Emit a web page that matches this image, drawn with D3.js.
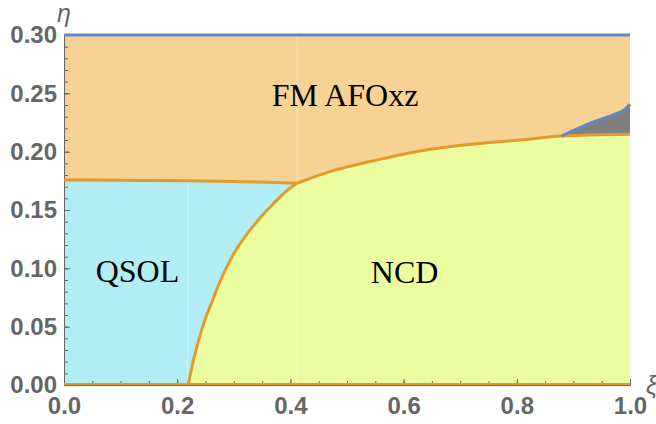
<!DOCTYPE html>
<html lang="en">
<head>
  <meta charset="UTF-8" />
  <title>Phase diagram</title>
  <script src="https://d3js.org/d3.v7.min.js"></script>
  <style>
    body { margin: 0; background: white; }
    svg { display: block; }
    .tick text { font-family: "Liberation Sans", Arial, sans-serif; font-weight: bold; font-size: 24px; fill: #666; }
    .phase-label { font-family: "Liberation Serif", "Times New Roman", serif; font-size: 32px; fill: #000; }
    .axis-label { font-family: "Liberation Sans", Arial, sans-serif; font-style: italic; font-size: 25px; fill: #666; }
  </style>
</head>
<body>
  <svg id="chart" width="656" height="424"></svg>

  <script>
    // Phase boundaries, as [xi, eta] pairs
    const qsolFmBoundary = [[0, 0.1757], [0.1, 0.1755], [0.2, 0.1751], [0.3, 0.1744], [0.36, 0.1738], [0.4117, 0.1729]];
    const qsolNcdBoundary = [[0.2196, 0], [0.2261, 0.0157], [0.2332, 0.0300], [0.2415, 0.0443], [0.2509, 0.0585],
                             [0.2627, 0.0729], [0.2744, 0.0872], [0.2875, 0.1010], [0.3021, 0.1142],
                             [0.3198, 0.1271], [0.3433, 0.1414], [0.3698, 0.1553], [0.3935, 0.1664], [0.4117, 0.1729]];
    const ncdFmBoundary = [[0.4117, 0.1729], [0.47, 0.1829], [0.558, 0.1934], [0.647, 0.202], [0.735, 0.2071],
                           [0.806, 0.21], [0.879, 0.2134], [1.0, 0.2149]];
    const grayTopBoundary = [[0.879, 0.2134], [0.93, 0.2245], [0.97, 0.2315], [0.99, 0.236], [1.0, 0.2405]];

    const xDomain = [0, 1];
    const yDomain = [0, 0.30];
    const xMajorTicks = [0, 0.2, 0.4, 0.6, 0.8, 1.0];
    const yMajorTicks = [0, 0.05, 0.10, 0.15, 0.20, 0.25, 0.30];
    const meshLines = [0.2185, 0.4117];

    const phaseLabels = [
      { text: "FM AFOxz", xi: 0.367, eta: 0.239 },
      { text: "QSOL", xi: 0.056, eta: 0.0885 },
      { text: "NCD", xi: 0.542, eta: 0.0874 }
    ];

    const colors = {
      fm: "#f6d394",
      qsol: "#b2edf5",
      ncd: "#ebfd9f",
      gray: "#7f7f7f",
      orange: "#e29b2a",
      blue: "#6288c4",
      axis: "#666"
    };

    const svg = d3.select("#chart");
    const x = d3.scaleLinear().domain(xDomain).range([64, 630]);
    const y = d3.scaleLinear().domain(yDomain).range([385, 35]);

    const lineX = d3.line().x(d => x(d[0])).y(d => y(d[1])).curve(d3.curveMonotoneX);
    const lineY = d3.line().x(d => x(d[0])).y(d => y(d[1])).curve(d3.curveMonotoneY);
    const straight = d3.line().x(d => x(d[0])).y(d => y(d[1]));

    // join several segments into one closed path
    function joined(parts) {
      return parts.map((p, i) => {
        const s = (p.gen || straight)(p.pts);
        return i === 0 ? s : "L" + s.slice(1);
      }).join("") + "Z";
    }
    const rev = a => a.slice().reverse();

    // FM fills the whole frame, other phases are painted on top
    svg.append("rect")
      .attr("x", x(0)).attr("y", y(0.30))
      .attr("width", x(1) - x(0)).attr("height", y(0) - y(0.30))
      .attr("fill", colors.fm);

    svg.append("path")
      .attr("d", joined([
        { pts: [[0, 0], qsolNcdBoundary[0]] },
        { pts: qsolNcdBoundary, gen: lineY },
        { pts: rev(qsolFmBoundary) }
      ]))
      .attr("fill", colors.qsol);

    svg.append("path")
      .attr("d", joined([
        { pts: qsolNcdBoundary, gen: lineY },
        { pts: ncdFmBoundary, gen: lineX },
        { pts: [[1, 0.2149], [1, 0]] }
      ]))
      .attr("fill", colors.ncd);

    svg.append("path")
      .attr("d", joined([
        { pts: grayTopBoundary, gen: lineX },
        { pts: [[1, 0.2149], [0.879, 0.2134]] }
      ]))
      .attr("fill", colors.gray);

    // faint mesh seams
    svg.append("line")
      .attr("x1", x(meshLines[0])).attr("x2", x(meshLines[0]))
      .attr("y1", y(0)).attr("y2", y(0.1751))
      .attr("stroke", "#fff").attr("stroke-opacity", 0.35);
    svg.append("line")
      .attr("x1", x(meshLines[1])).attr("x2", x(meshLines[1]))
      .attr("y1", y(0)).attr("y2", y(0.30))
      .attr("stroke", "#fff").attr("stroke-opacity", 0.35);

    // axes
    const gx = svg.append("g").attr("transform", `translate(0,${y(0)})`);
    gx.call(d3.axisBottom(x).ticks(20).tickSize(-4).tickFormat(""));
    gx.append("g").call(d3.axisBottom(x).tickValues(xMajorTicks).tickSize(-6).tickPadding(12).tickFormat(d3.format(".1f")))
      .call(g => g.select(".domain").remove());

    const gy = svg.append("g").attr("transform", `translate(${x(0)},0)`);
    gy.call(d3.axisLeft(y).ticks(30).tickSize(-4).tickFormat(""));
    gy.append("g").call(d3.axisLeft(y).tickValues(yMajorTicks).tickSize(-6).tickPadding(7).tickFormat(d3.format(".2f")))
      .call(g => g.select(".domain").remove());

    svg.selectAll(".domain").attr("stroke", colors.axis);
    svg.selectAll(".tick line").attr("stroke", colors.axis);
    svg.selectAll(".tick text").attr("font-family", null).attr("font-size", null).attr("fill", null);

    // boundary lines
    const lines = svg.append("g").attr("fill", "none").attr("stroke-width", 3).attr("stroke-linejoin", "round");
    lines.append("path").attr("d", lineX(qsolFmBoundary)).attr("stroke", colors.orange);
    lines.append("path").attr("d", lineY(qsolNcdBoundary)).attr("stroke", colors.orange);
    lines.append("path").attr("d", lineX(ncdFmBoundary)).attr("stroke", colors.orange);
    lines.append("path").attr("d", lineX(grayTopBoundary)).attr("stroke", colors.blue);
    lines.append("path").attr("d", straight([[0, 0], [1, 0]])).attr("stroke", colors.orange)
      .attr("transform", "translate(0,-1)").attr("stroke-width", 2);
    lines.append("path").attr("d", straight([[0, 0.30], [1, 0.30]])).attr("stroke", colors.blue);

    // phase names
    svg.selectAll(".phase-label")
      .data(phaseLabels)
      .enter()
      .append("text")
      .attr("class", "phase-label")
      .attr("x", d => x(d.xi))
      .attr("y", d => y(d.eta))
      .text(d => d.text);

    // axis names
    svg.append("text").attr("class", "axis-label").attr("x", 57).attr("y", 22).text("η");
    svg.append("text").attr("class", "axis-label").attr("x", 646).attr("y", 394).text("ξ");
  </script>
</body>
</html>
